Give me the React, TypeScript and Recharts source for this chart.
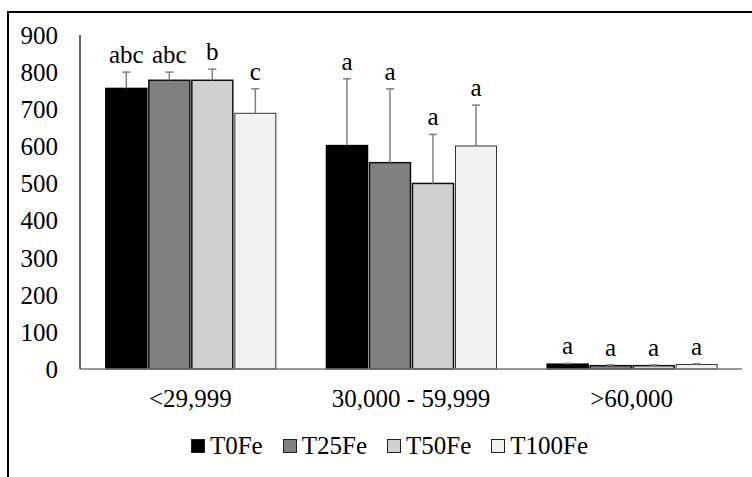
import React from "react";
import { BarChart, Bar, XAxis, YAxis, Legend } from "recharts";

const FONT = "Liberation Serif, DejaVu Serif, serif";

// income classes
const CATEGORIES = ["<29,999", "30,000 - 59,999", ">60,000"];
const Y_TICKS = [0, 100, 200, 300, 400, 500, 600, 700, 800, 900];

// means
const T0FE = [756, 602, 13];
const T25FE = [778, 556, 9];
const T50FE = [778, 500, 9];
const T100FE = [689, 601, 12];

// upper error (SD)
const T0FE_ERR = [44, 180, 2];
const T25FE_ERR = [22, 199, 2];
const T50FE_ERR = [30, 132, 2];
const T100FE_ERR = [66, 110, 2];

// significance letters
const T0FE_SIG = ["abc", "a", "a"];
const T25FE_SIG = ["abc", "a", "a"];
const T50FE_SIG = ["b", "a", "a"];
const T100FE_SIG = ["c", "a", "a"];

const data = CATEGORIES.map((cat, i) => ({
  cat,
  t0: T0FE[i], t0Err: T0FE_ERR[i], t0Sig: T0FE_SIG[i],
  t25: T25FE[i], t25Err: T25FE_ERR[i], t25Sig: T25FE_SIG[i],
  t50: T50FE[i], t50Err: T50FE_ERR[i], t50Sig: T50FE_SIG[i],
  t100: T100FE[i], t100Err: T100FE_ERR[i], t100Sig: T100FE_SIG[i],
}));

const SERIES = [
  { key: "t0", name: "T0Fe", fill: "#000000", stroke: "#000000", sw: 1.5 },
  { key: "t25", name: "T25Fe", fill: "#808080", stroke: "#111111", sw: 1.5 },
  { key: "t50", name: "T50Fe", fill: "#d0d0d0", stroke: "#111111", sw: 1.5 },
  { key: "t100", name: "T100Fe", fill: "#f2f2f2", stroke: "#333333", sw: 1 },
];

type S = (typeof SERIES)[number];

// bar + upward error bar + letter, error length from the bar's own px/unit
const makeShape = (s: S) => (props: any) => {
  const { x, y, width, height, payload } = props;
  const v = payload[s.key];
  const e = payload[s.key + "Err"];
  const sig = payload[s.key + "Sig"];
  const ppu = v ? height / v : 0;
  const yTop = y - e * ppu;
  const cx = x + width / 2;
  return (
    <g>
      <rect x={x} y={y} width={width} height={height} fill={s.fill} stroke={s.stroke} strokeWidth={s.sw} />
      <line x1={cx} x2={cx} y1={y} y2={yTop} stroke="#7f7f7f" strokeWidth={1.5} />
      <line x1={cx - 4} x2={cx + 4} y1={yTop} y2={yTop} stroke="#7f7f7f" strokeWidth={1.5} />
      <text x={cx} y={yTop - 9} textAnchor="middle" fontSize={25} fontFamily={FONT} fill="#000">
        {sig}
      </text>
    </g>
  );
};

function LegendBox() {
  return (
    <div style={{ display: "flex", justifyContent: "center", alignItems: "center", gap: 20, fontFamily: FONT, fontSize: 25, color: "#000" }}>
      {SERIES.map((s) => (
        <div key={s.key} style={{ display: "flex", alignItems: "center", gap: 5 }}>
          <span style={{ display: "inline-block", width: 12, height: 12, background: s.fill, border: "1px solid #222" }} />
          <span>{s.name}</span>
        </div>
      ))}
    </div>
  );
}

export default function App() {
  return (
    <div style={{ position: "fixed", left: 0, top: 0, width: 752, height: 477, overflow: "hidden", background: "#fff", fontFamily: FONT }}>
      {/* frame, cropped at the right and bottom */}
      <div style={{ position: "absolute", left: 7, top: 11, width: 900, height: 600, border: "2px solid #000" }} />
      <div style={{ position: "absolute", left: 0, top: 0 }}>
        <BarChart
          width={752}
          height={477}
          data={data}
          margin={{ top: 35, right: 10, left: 0, bottom: 68 }}
          barCategoryGap="11.7%"
          barGap={2}
          style={{ fontFamily: FONT }}
        >
          <XAxis
            dataKey="cat"
            axisLine={{ stroke: "#777", strokeWidth: 1.5 }}
            tickLine={false}
            tickMargin={14}
            height={40}
            tick={{ fontSize: 25, fill: "#000", fontFamily: FONT }}
          />
          <YAxis
            domain={[0, 900]}
            ticks={Y_TICKS}
            width={80}
            axisLine={{ stroke: "#333", strokeWidth: 1.5 }}
            tickLine={false}
            tickMargin={16}
            tick={{ fontSize: 25, fill: "#000", fontFamily: FONT }}
          />
          <Legend
            layout="horizontal"
            verticalAlign="middle"
            align="center"
            content={() => <LegendBox />}
            wrapperStyle={{ position: "absolute", top: 432, left: 0, width: 779 }}
          />
          {SERIES.map((s) => (
            <Bar key={s.key} dataKey={s.key} name={s.name} fill={s.fill} shape={makeShape(s)} isAnimationActive={false} />
          ))}
        </BarChart>
      </div>
    </div>
  );
}
